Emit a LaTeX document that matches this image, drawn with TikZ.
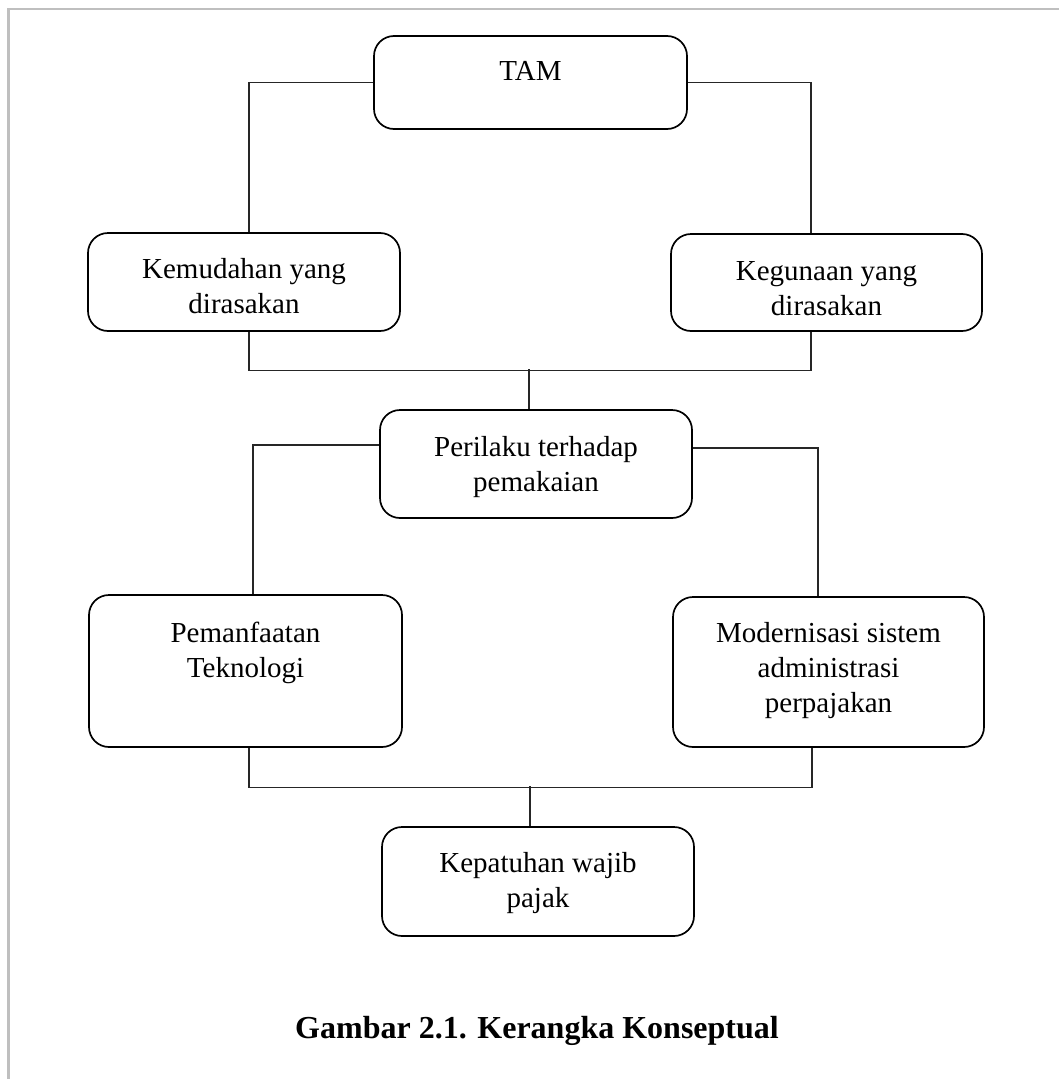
\documentclass[tikz,border=0pt]{standalone}
\usepackage{fontspec}
\setmainfont{Liberation Serif}
\begin{document}
\begin{tikzpicture}[x=1pt,y=-1pt,
  box/.style={draw=black, line width=1.7pt, rounded corners=20pt, inner sep=0pt},
  lbl/.style={anchor=base, align=center, inner sep=0pt, font=\fontsize{29}{35}\selectfont},
  conn/.style={draw=black!85, line width=1.2pt},
  frame/.style={draw=black!25, line width=2.5pt}]
\useasboundingbox[fill=white] (0,0) rectangle (1059,1079);
\draw[frame] (1059,9) -- (8.5,9) -- (8.5,1079);

% boxes
\node[box, minimum width=313pt, minimum height=93pt]  (tam) at (530.5,82.5) {};
\node[box, minimum width=312pt, minimum height=98pt]  (kem) at (244,282) {};
\node[box, minimum width=311pt, minimum height=97pt]  (keg) at (826.5,282.5) {};
\node[box, minimum width=312pt, minimum height=108pt] (per) at (536,464) {};
\node[box, minimum width=313pt, minimum height=152pt] (pem) at (245.5,671) {};
\node[box, minimum width=311pt, minimum height=150pt] (mod) at (828.5,672) {};
\node[box, minimum width=312pt, minimum height=109pt] (kep) at (538,881.5) {};

% texts (base anchor = baseline of last line)
\node[lbl] (ttam) at (530.5,80) {TAM};
\node[lbl] (tkem) at (244,313) {Kemudahan yang\\dirasakan};
\node[lbl] (tkeg) at (826.5,315) {Kegunaan yang\\dirasakan};
\node[lbl] (tper) at (536,491) {Perilaku terhadap\\pemakaian};
\node[lbl] (tpem) at (245.5,677) {Pemanfaatan\\Teknologi};
\node[lbl] (tmod) at (828.5,712) {Modernisasi sistem\\administrasi\\perpajakan};
\node[lbl] (tkep) at (538,907) {Kepatuhan wajib\\pajak};
\node[anchor=base, inner sep=0pt, font=\fontsize{32}{38}\selectfont\bfseries] (cap) at (537,1038) {Gambar 2.1. Kerangka Konseptual};

% connectors
\draw[conn] (tam.west) -| ([xshift=5pt]kem.north);
\draw[conn] (tam.east) -| ([xshift=-15.5pt]keg.north);
\draw[conn] ([xshift=5pt]kem.south) -- ++(0,39) -| ([xshift=-15.5pt]keg.south);
\draw[conn] ([xshift=-7pt]per.north) ++(0,-40) -- ([xshift=-7pt]per.north);
\draw[conn] ([yshift=19pt]per.west) -| ([xshift=7.5pt]pem.north);
\draw[conn] ([yshift=16pt]per.east) -| ([xshift=-10.5pt]mod.north);
\draw[conn] ([xshift=3.5pt]pem.south) -- ++(0,40) -| ([xshift=-16.5pt]mod.south);
\draw[conn] ([xshift=-8pt]kep.north) ++(0,-40) -- ([xshift=-8pt]kep.north);
\end{tikzpicture}
\end{document}
